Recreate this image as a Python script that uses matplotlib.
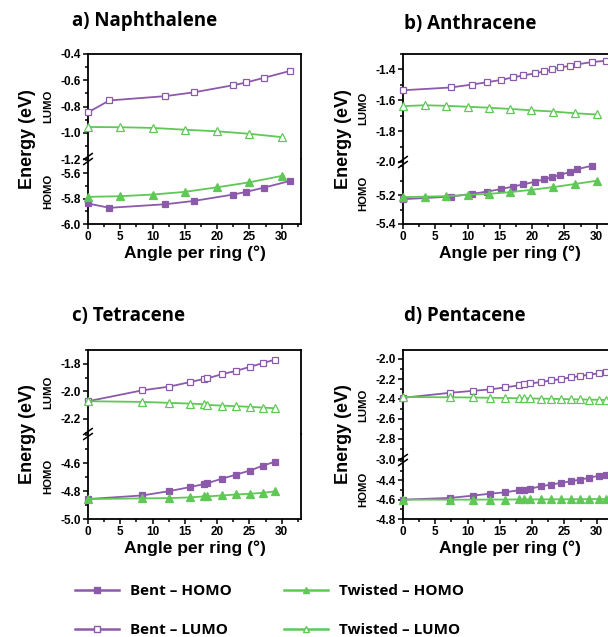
'''energy levels of bent / twisted acenes, broken y axis per panel
'''
import matplotlib
matplotlib.use('Agg')
import matplotlib.pyplot as plt
from matplotlib.lines import Line2D
from matplotlib.ticker import MultipleLocator, FixedLocator, FormatStrFormatter

W, H = 608, 637
PURPLE = '#8c5aaa'
GREEN = '#5fc856'

# a) Naphthalene
naph_bent_x = [0, 3.3, 12.0, 16.4, 22.5, 24.5, 27.3, 31.3]
naph_bent_homo = [-5.839, -5.873, -5.845, -5.819, -5.769, -5.748, -5.714, -5.662]
naph_bent_lumo = [-0.845, -0.754, -0.721, -0.692, -0.638, -0.617, -0.581, -0.529]
naph_tw_x = [0, 5, 10, 15, 20, 25, 30]
naph_tw_homo = [-5.787, -5.782, -5.769, -5.748, -5.712, -5.673, -5.623]
naph_tw_lumo = [-0.956, -0.958, -0.963, -0.977, -0.989, -1.008, -1.033]

# b) Anthracene
anth_bent_x = [0, 7.4, 10.7, 13.0, 15.2, 17.0, 18.6, 20.4, 21.8, 23.1, 24.4, 25.8, 27.0, 29.3, 31.4]
anth_bent_homo = [-5.228, -5.210, -5.191, -5.175, -5.158, -5.140, -5.126, -5.107, -5.091,
                  -5.075, -5.059, -5.040, -5.019, -4.996]
anth_bent_lumo = [-1.535, -1.517, -1.498, -1.483, -1.468, -1.452, -1.439, -1.426, -1.413,
                  -1.400, -1.387, -1.377, -1.367, -1.352, -1.344]
anth_tw_x = [0, 3.4, 6.7, 10.0, 13.3, 16.6, 19.9, 23.3, 26.6, 30.0]
anth_tw_homo = [-5.214, -5.210, -5.207, -5.198, -5.191, -5.179, -5.163, -5.144, -5.123, -5.100]
anth_tw_lumo = [-1.638, -1.632, -1.636, -1.642, -1.648, -1.656, -1.665, -1.673, -1.684, -1.692]

# c) Tetracene
tetr_x = [0, 8.4, 12.6, 15.8, 17.9, 18.5, 20.8, 23.0, 25.1, 27.1, 28.9]
tetr_bent_homo = [-4.857, -4.831, -4.800, -4.771, -4.750, -4.743, -4.710, -4.681, -4.652, -4.617, -4.590]
tetr_bent_lumo = [-2.072, -1.993, -1.966, -1.933, -1.911, -1.906, -1.875, -1.851, -1.822, -1.795, -1.771]
tetr_tw_homo = [-4.857, -4.852, -4.850, -4.845, -4.838, -4.838, -4.831, -4.824, -4.819, -4.812, -4.802]
tetr_tw_lumo = [-2.072, -2.077, -2.084, -2.089, -2.094, -2.099, -2.104, -2.108, -2.113, -2.118, -2.123]

# d) Pentacene
pent_x = [0, 7.3, 10.9, 13.5, 15.8, 17.9, 18.7, 19.7, 21.4, 22.9, 24.5, 26.0, 27.4, 28.8, 30.4, 31.5]
pent_bent_homo = [-4.600, -4.582, -4.558, -4.538, -4.524, -4.503, -4.496, -4.486, -4.462, -4.444,
                  -4.427, -4.410, -4.393, -4.375, -4.351, -4.341]
pent_bent_lumo = [-2.388, -2.338, -2.318, -2.304, -2.284, -2.264, -2.254, -2.244, -2.231, -2.214,
                  -2.200, -2.184, -2.171, -2.157, -2.143, -2.130]
pent_tw_homo = [-4.600, -4.600, -4.600, -4.599, -4.599, -4.598, -4.598, -4.598, -4.597, -4.597,
                -4.596, -4.596, -4.595, -4.595, -4.594, -4.594]
pent_tw_lumo = [-2.380, -2.383, -2.385, -2.388, -2.390, -2.392, -2.393, -2.395, -2.396, -2.398,
                -2.400, -2.402, -2.404, -2.406, -2.408, -2.410]

LEGEND_LABELS = ['Bent \u2013 HOMO', 'Bent \u2013 LUMO', 'Twisted \u2013 HOMO', 'Twisted \u2013 LUMO']

plt.rcParams['axes.unicode_minus'] = False
TICK_FONT = dict(family='Liberation Sans', weight='bold', size=8.5)
TITLE_FONT = dict(family='Open Sans', weight='bold', size=13.5)


def px_rect(left, top, width, height):
    return [left / W, 1 - (top + height) / H, width / W, height / H]


def style_axis(ax, yticks):
    ax.yaxis.set_major_locator(FixedLocator(yticks))
    ax.yaxis.set_minor_locator(MultipleLocator(0.1))
    ax.yaxis.set_major_formatter(FormatStrFormatter('%.1f'))
    ax.xaxis.set_major_locator(MultipleLocator(5))
    ax.xaxis.set_minor_locator(MultipleLocator(2.5))
    ax.tick_params(which='both', direction='out', width=1.1, right=False, top=False)
    ax.tick_params(which='major', length=3.5, pad=1.5)
    ax.tick_params(which='minor', length=2)
    for s in ax.spines.values():
        s.set_linewidth(1.3)
    for lab in ax.get_yticklabels() + ax.get_xticklabels():
        lab.set_fontproperties(matplotlib.font_manager.FontProperties(**TICK_FONT))


def draw_series(ax, x, y, color, marker, filled, ms):
    ax.plot(x, y, color=color, lw=1.3, marker=marker, markersize=ms,
            markerfacecolor=color if filled else 'white', markeredgecolor=color,
            markeredgewidth=0.9, clip_on=False, zorder=3)


def draw_panel(fig, p):
    left, top, brk, bottom = p['left'], p['top'], p['brk'], p['bottom']
    width = 213
    ax_up = fig.add_axes(px_rect(left, top, width, brk - top))
    ax_lo = fig.add_axes(px_rect(left, brk, width, bottom - brk), sharex=ax_up)

    bx, bh, bl, tx, th, tl = p['data']
    bx_h = bx[:len(bh)]
    draw_series(ax_up, bx, bl, PURPLE, 's', False, 4.3)
    draw_series(ax_up, tx, tl, GREEN, '^', False, 5.5)
    draw_series(ax_lo, bx_h, bh, PURPLE, 's', True, 4.3)
    draw_series(ax_lo, tx, th, GREEN, '^', True, 5.5)

    ax_up.set_xlim(0, 33)
    ax_up.set_ylim(*p['ylim_lumo'])
    ax_lo.set_ylim(*p['ylim_homo'])
    style_axis(ax_up, p['yt_lumo'])
    style_axis(ax_lo, p['yt_homo'])
    ax_up.spines['bottom'].set_visible(False)
    ax_up.tick_params(which='both', bottom=False, labelbottom=False)
    ax_lo.spines['top'].set_visible(False)

    # break mark on the left spine
    h_lo = bottom - brk
    for off in (-2.5, 2.5):
        ax_lo.plot([-0.02, 0.02], [1 + (off - 3) / h_lo, 1 + (off + 3) / h_lo],
                   transform=ax_lo.transAxes, color='black', lw=1.1, clip_on=False)

    ax_lo.set_xlabel('Angle per ring (\u00b0)', family='Liberation Sans', weight='bold',
                     fontsize=12.5, labelpad=2)
    ax_up.text(-0.185, 0.5, 'LUMO', transform=ax_up.transAxes, rotation=90, ha='center',
               va='center', family='Liberation Sans', weight='bold', fontsize=8.2)
    ax_lo.text(-0.185, 0.5, 'HOMO', transform=ax_lo.transAxes, rotation=90, ha='center',
               va='center', family='Liberation Sans', weight='bold', fontsize=8.2)
    fig.text((left - 60) / W, 1 - (top + bottom) / 2 / H, 'Energy (eV)', rotation=90,
             ha='center', va='center', family='Liberation Sans', weight='bold', fontsize=13)
    fig.text(p['title_x'] / W, 1 - p['title_y'] / H, p['title'], ha='left', va='center',
             **TITLE_FONT)


PANELS = [
    dict(title='a) Naphthalene', title_x=72, title_y=21, left=88, top=54, brk=159, bottom=224,
         ylim_lumo=(-1.2, -0.4), ylim_homo=(-6.0, -5.49),
         yt_lumo=[-1.2, -1.0, -0.8, -0.6, -0.4], yt_homo=[-6.0, -5.8, -5.6],
         data=(naph_bent_x, naph_bent_homo, naph_bent_lumo, naph_tw_x, naph_tw_homo, naph_tw_lumo)),
    dict(title='b) Anthracene', title_x=404, title_y=24, left=403, top=54, brk=162, bottom=224,
         ylim_lumo=(-2.0, -1.3), ylim_homo=(-5.4, -4.97),
         yt_lumo=[-2.0, -1.8, -1.6, -1.4], yt_homo=[-5.4, -5.2],
         data=(anth_bent_x, anth_bent_homo, anth_bent_lumo, anth_tw_x, anth_tw_homo, anth_tw_lumo)),
    dict(title='c) Tetracene', title_x=72, title_y=316, left=88, top=350, brk=434, bottom=519,
         ylim_lumo=(-2.31, -1.70), ylim_homo=(-5.0, -4.39),
         yt_lumo=[-2.2, -2.0, -1.8], yt_homo=[-5.0, -4.8, -4.6],
         data=(tetr_x, tetr_bent_homo, tetr_bent_lumo, tetr_x, tetr_tw_homo, tetr_tw_lumo)),
    dict(title='d) Pentacene', title_x=404, title_y=316, left=403, top=350, brk=460, bottom=519,
         ylim_lumo=(-3.01, -1.91), ylim_homo=(-4.8, -4.19),
         yt_lumo=[-3.0, -2.8, -2.6, -2.4, -2.2, -2.0], yt_homo=[-4.8, -4.6, -4.4],
         data=(pent_x, pent_bent_homo, pent_bent_lumo, pent_x, pent_tw_homo, pent_tw_lumo)),
]


if __name__ == '__main__':
    fig = plt.figure(figsize=(W / 100, H / 100), dpi=100)
    for p in PANELS:
        draw_panel(fig, p)

    handles = [
        Line2D([], [], color=PURPLE, lw=1.8, marker='s', markersize=4, markerfacecolor=PURPLE),
        Line2D([], [], color=PURPLE, lw=1.8, marker='s', markersize=4, markerfacecolor='white'),
        Line2D([], [], color=GREEN, lw=1.8, marker='^', markersize=4.5, markerfacecolor=GREEN),
        Line2D([], [], color=GREEN, lw=1.8, marker='^', markersize=4.5, markerfacecolor='white'),
    ]
    fig.legend(handles, LEGEND_LABELS, ncol=2, loc='upper left',
               bbox_to_anchor=(75 / W, 1 - 584 / H), frameon=False, borderpad=0,
               borderaxespad=0, handlelength=2.9, handletextpad=0.7, columnspacing=3.4,
               labelspacing=1.65, prop=dict(family='Open Sans', weight='bold', size=11))
    fig.savefig('out.png', dpi=100)
